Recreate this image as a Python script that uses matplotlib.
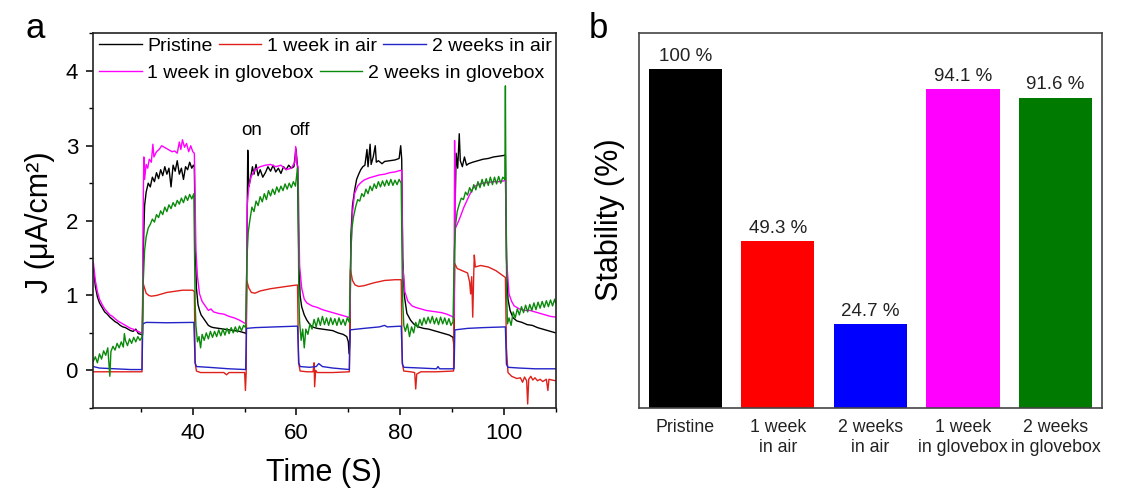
import matplotlib
matplotlib.use("Agg")
import matplotlib.pyplot as plt
from matplotlib.ticker import MultipleLocator

plt.rcParams['font.family'] = ['Liberation Sans', 'DejaVu Sans']

# ---------------- Panel a data ----------------
t_black = [20.8, 21.2, 21.6, 22.0, 22.5, 23.0, 23.5, 24.0, 24.5, 25.0, 25.5, 26.0, 26.5, 27.0, 27.5, 28.0, 28.5, 29.0, 29.5, 30.0, 30.3,
           30.45, 30.7, 31.0, 31.4, 31.8, 32.2, 32.6, 33.0, 33.4, 33.8, 34.2, 34.6, 35.0, 35.4, 35.8, 36.2, 36.6, 37.0, 37.4, 37.8, 38.2, 38.6, 39.0, 39.4, 39.8, 40.1, 40.3,
           40.5, 40.7, 41.0, 41.3, 41.6, 42.0, 42.5, 43.0, 43.5, 44.0, 45.0, 46.0, 47.0, 48.0, 49.0, 50.0, 50.3,
           50.45, 50.6, 50.8, 51.1, 51.5, 51.8, 52.2, 52.6, 53.0, 53.5, 54.0, 54.5, 55.0, 55.5, 56.0, 56.5, 57.0, 57.5, 58.0, 58.5, 59.0, 59.5, 59.9, 60.2,
           60.45, 60.7, 61.0, 61.5, 62.0, 62.5, 63.0, 64.0, 65.0, 66.0, 67.0, 68.0, 69.0, 69.7, 70.0, 70.15, 70.3,
           70.5, 70.8, 71.2, 71.6, 72.0, 72.4, 72.8, 73.2, 73.6, 73.8, 74.2, 74.4, 74.8, 75.2, 75.4, 75.8, 76.5, 77.0, 78.0, 79.0, 79.8, 80.1, 80.3,
           80.5, 80.8, 81.3, 82.0, 82.6, 83.5, 84.5, 85.5, 86.5, 87.5, 88.5, 89.5, 90.2, 90.4,
           90.55, 90.8, 91.1, 91.4, 91.6, 92.0, 92.4, 92.8, 93.2, 94.0, 95.0, 96.0, 97.0, 98.0, 99.0, 100.0, 100.3,
           100.5, 100.8, 101.2, 101.8, 102.5, 103.5, 104.5, 105.5, 106.5, 107.5, 108.5, 109.5, 110.0]
j_black = [1.38, 1.12, 0.98, 0.90, 0.84, 0.78, 0.75, 0.71, 0.68, 0.65, 0.63, 0.60, 0.58, 0.57, 0.55, 0.53, 0.52, 0.55, 0.49, 0.48, 0.47,
           1.60, 2.20, 2.38, 2.50, 2.45, 2.58, 2.52, 2.64, 2.56, 2.68, 2.60, 2.72, 2.62, 2.70, 2.45, 2.74, 2.66, 2.80, 2.62, 2.70, 2.55, 2.72, 2.68, 2.78, 2.70, 2.74, 2.72,
           1.60, 1.10, 0.88, 0.80, 0.74, 0.70, 0.65, 0.60, 0.58, 0.57, 0.56, 0.55, 0.54, 0.53, 0.52, 0.50, 0.49,
           1.80, 2.94, 2.45, 2.55, 2.72, 2.62, 2.75, 2.60, 2.68, 2.58, 2.64, 2.72, 2.66, 2.74, 2.65, 2.70, 2.63, 2.72, 2.68, 2.74, 2.70, 2.72, 2.96, 2.72,
           1.50, 1.00, 0.85, 0.74, 0.67, 0.62, 0.58, 0.56, 0.55, 0.54, 0.53, 0.50, 0.48, 0.45, 0.38, 0.22, 0.40,
           1.80, 2.20, 2.40, 2.55, 2.62, 2.68, 2.72, 2.74, 2.95, 2.72, 3.02, 2.75, 2.85, 3.00, 2.78, 2.80, 2.76, 2.79, 2.80, 2.81, 2.83, 3.00, 2.82,
           1.50, 1.00, 0.76, 0.67, 0.62, 0.58, 0.56, 0.55, 0.53, 0.51, 0.49, 0.47, 0.44, 0.30,
           2.00, 2.90, 2.70, 3.16, 2.80, 2.72, 2.85, 2.74, 2.76, 2.78, 2.80, 2.82, 2.83, 2.85, 2.86, 2.87, 2.88,
           1.50, 0.95, 0.80, 0.70, 0.66, 0.64, 0.61, 0.60, 0.57, 0.55, 0.53, 0.51, 0.50]

t_red = [20.8, 25.0, 30.2, 30.35, 30.6, 31.0, 31.5, 32.0, 33.0, 34.0, 35.0, 36.0, 37.0, 38.0, 39.0, 40.0, 40.3,
         40.45, 40.7, 41.5, 43.0, 46.0, 46.5, 47.0, 50.0, 50.15, 50.3,
         50.4, 50.8, 51.3, 52.0, 53.0, 55.0, 57.0, 59.0, 60.2,
         60.4, 60.7, 62.0, 63.2, 63.4, 63.5, 63.7, 64.0, 67.0, 70.2,
         70.4, 70.8, 71.3, 72.0, 73.0, 75.0, 77.0, 79.0, 80.2,
         80.4, 80.7, 82.0, 82.8, 83.0, 83.2, 84.0, 87.0, 90.3,
         90.5, 91.0, 92.0, 93.0, 93.4, 93.6, 93.8, 94.0, 94.2, 94.3, 94.5, 95.5, 97.0, 98.5, 99.5, 100.3,
         100.5, 100.8, 101.5, 102.5, 103.2, 103.6, 104.0, 104.4, 104.6, 104.8, 105.2, 105.6, 106.0, 106.5, 107.0, 107.5, 108.2, 108.5, 108.7, 109.3, 110.0]
j_red = [-0.02, -0.02, -0.02, 1.18, 1.12, 1.03, 1.00, 0.99, 1.00, 1.02, 1.04, 1.05, 1.06, 1.07, 1.07, 1.07, 1.05,
         0.10, -0.01, -0.03, -0.03, -0.03, -0.06, -0.03, -0.03, -0.27, -0.03,
         1.20, 1.10, 1.04, 1.03, 1.06, 1.09, 1.11, 1.13, 1.14,
         0.10, -0.01, -0.02, -0.02, 0.10, -0.22, 0.00, -0.03, -0.03, -0.02,
         1.35, 1.20, 1.14, 1.12, 1.13, 1.17, 1.20, 1.21, 1.21,
         0.10, -0.01, -0.02, -0.03, -0.25, -0.05, -0.02, -0.02, -0.01,
         1.43, 1.36, 1.33, 1.30, 1.18, 1.02, 1.25, 0.71, 1.30, 1.54, 1.38, 1.40, 1.38, 1.33, 1.28, 1.24,
         0.30, -0.03, -0.08, -0.11, -0.10, -0.16, -0.09, -0.14, -0.45, -0.12, -0.08, -0.13, -0.10, -0.14, -0.12, -0.15, -0.12, -0.27, -0.12, -0.13, -0.14]

t_blue = [20.8, 22.0, 25.0, 28.0, 30.2, 30.35, 31.0, 35.0, 40.2,
          40.45, 40.7, 43.0, 47.0, 50.2, 50.35, 52.0, 56.0, 60.2,
          60.45, 60.7, 62.5, 63.8, 64.3, 65.0, 67.0, 70.2, 70.35, 73.0, 76.0, 77.0, 77.5, 80.2,
          80.45, 80.7, 84.0, 87.0, 87.3, 87.6, 90.4, 90.55, 93.0, 96.0, 100.3,
          100.5, 100.8, 103.0, 106.0, 110.0]
j_blue = [0.05, 0.03, 0.02, 0.01, 0.01, 0.62, 0.64, 0.635, 0.64,
          0.10, 0.05, 0.04, 0.02, 0.01, 0.56, 0.57, 0.58, 0.59,
          0.10, 0.05, 0.04, 0.05, 0.09, 0.05, 0.03, 0.01, 0.54, 0.56, 0.58, 0.60, 0.58, 0.59,
          0.08, 0.04, 0.03, 0.02, 0.05, 0.02, 0.02, 0.54, 0.56, 0.57, 0.58,
          0.08, 0.04, 0.03, 0.02, 0.02]

t_mag = [20.8, 21.2, 21.6, 22.0, 22.5, 23.0, 23.5, 24.0, 24.5, 25.0, 25.5, 26.0, 26.5, 27.0, 27.5, 28.0, 28.5, 29.0, 29.5, 30.0, 30.3,
         30.4, 30.55, 30.7, 31.0, 31.3, 31.6, 32.0, 32.3, 32.5, 33.0, 33.5, 34.0, 34.5, 35.0, 35.5, 36.0, 36.5, 37.0, 37.4, 37.7, 38.0, 38.4, 38.8, 39.2, 39.6, 40.0, 40.3,
         40.6, 40.9, 41.3, 41.8, 42.5, 43.0, 43.5, 44.0, 45.0, 46.0, 47.0, 48.0, 49.0, 50.0, 50.3,
         50.5, 50.8, 51.2, 51.6, 52.0, 53.0, 54.0, 55.0, 56.0, 57.0, 58.0, 59.0, 59.7, 59.85, 60.1, 60.3,
         60.6, 61.0, 61.5, 62.0, 63.0, 64.0, 65.0, 66.0, 67.0, 68.0, 69.0, 70.0, 70.3,
         70.5, 70.8, 71.2, 71.8, 72.3, 73.0, 74.0, 75.0, 76.0, 77.0, 78.0, 79.0, 80.0, 80.3,
         80.5, 80.9, 81.5, 82.3, 83.0, 84.0, 85.0, 86.0, 87.0, 88.0, 89.0, 90.0, 90.4,
         90.5, 90.65, 91.0, 91.6, 92.3, 92.9, 93.5, 94.2, 95.0, 96.0, 97.0, 98.0, 99.0, 100.0, 100.3,
         100.6, 101.0, 101.5, 102.0, 103.0, 104.0, 105.0, 106.0, 107.0, 108.0, 109.0, 110.0]
j_mag = [1.45, 1.20, 1.05, 0.95, 0.88, 0.82, 0.78, 0.74, 0.72, 0.69, 0.66, 0.64, 0.62, 0.60, 0.58, 0.56, 0.55, 0.53, 0.52, 0.50, 0.50,
         2.00, 2.85, 2.55, 2.75, 2.70, 2.82, 2.78, 3.02, 2.85, 2.92, 2.95, 3.00, 2.98, 2.96, 2.94, 2.92, 2.93, 2.90, 3.05, 2.95, 3.08, 2.98, 3.03, 2.92, 3.00, 2.92, 2.90,
         1.60, 1.25, 1.02, 0.92, 0.85, 0.80, 0.82, 0.78, 0.76, 0.75, 0.72, 0.70, 0.67, 0.63, 0.62,
         2.20, 2.45, 2.58, 2.63, 2.68, 2.72, 2.74, 2.75, 2.72, 2.74, 2.68, 2.70, 2.78, 2.99, 2.75, 2.72,
         1.40, 1.10, 0.95, 0.90, 0.86, 0.84, 0.81, 0.79, 0.77, 0.75, 0.73, 0.71, 0.70,
         1.60, 2.10, 2.36, 2.46, 2.50, 2.54, 2.57, 2.59, 2.61, 2.62, 2.64, 2.65, 2.67, 2.67,
         1.40, 1.05, 0.92, 0.86, 0.84, 0.82, 0.80, 0.79, 0.78, 0.77, 0.75, 0.72, 0.70,
         3.07, 1.90, 1.95, 2.05, 2.18, 2.27, 2.36, 2.45, 2.48, 2.50, 2.51, 2.52, 2.52, 2.53, 2.55,
         1.40, 1.02, 0.92, 0.86, 0.82, 0.80, 0.80, 0.78, 0.76, 0.74, 0.72, 0.71]

t_green = [20.8, 21.2, 21.6, 22.0, 22.4, 22.8, 23.2, 23.6, 24.0, 24.2, 24.6, 25.0, 25.4, 25.8, 26.2, 26.6, 26.8, 27.0, 27.4, 27.8, 28.2, 28.6, 29.0, 29.4, 29.8, 30.2,
           30.45, 30.7, 31.0, 31.4, 31.8, 32.2, 32.6, 33.0, 33.4, 33.8, 34.2, 34.6, 35.0, 35.4, 35.8, 36.2, 36.6, 37.0, 37.4, 37.8, 38.2, 38.6, 39.0, 39.4, 39.8, 40.2,
           40.45, 40.6, 40.9, 41.2, 41.5, 41.8, 42.2, 42.6, 43.0, 43.4, 43.8, 44.2, 44.6, 45.0, 45.4, 45.8, 46.2, 46.6, 47.0, 47.4, 47.8, 48.2, 48.6, 49.0, 49.4, 49.8, 50.2,
           50.45, 50.7, 51.0, 51.4, 51.8, 52.2, 52.6, 53.0, 53.4, 53.8, 54.2, 54.6, 55.0, 55.4, 55.8, 56.2, 56.6, 57.0, 57.4, 57.8, 58.2, 58.6, 59.0, 59.4, 59.8, 60.2, 60.3,
           60.45, 60.6, 60.9, 61.2, 61.5, 61.8, 62.2, 62.6, 63.0, 63.4, 63.8, 64.2, 64.6, 65.0, 65.4, 65.8, 66.2, 66.6, 67.0, 67.4, 67.8, 68.2, 68.6, 69.0, 69.4, 69.8, 70.2,
           70.45, 70.7, 71.0, 71.4, 71.8, 72.2, 72.6, 73.0, 73.4, 73.8, 74.2, 74.6, 75.0, 75.4, 75.8, 76.2, 76.6, 77.0, 77.4, 77.8, 78.2, 78.6, 79.0, 79.4, 79.8, 80.2,
           80.45, 80.7, 81.0, 81.4, 81.8, 82.2, 82.6, 83.0, 83.4, 83.8, 84.2, 84.6, 85.0, 85.4, 85.8, 86.2, 86.6, 87.0, 87.4, 87.8, 88.2, 88.6, 89.0, 89.4, 89.8, 90.2,
           90.45, 90.7, 91.0, 91.4, 91.8, 92.2, 92.6, 93.0, 93.4, 93.8, 94.2, 94.6, 95.0, 95.4, 95.8, 96.2, 96.6, 97.0, 97.4, 97.8, 98.2, 98.6, 99.0, 99.4, 99.8, 100.2, 100.3, 100.4,
           100.55, 100.7, 101.0, 101.4, 101.8, 102.2, 102.6, 103.0, 103.4, 103.8, 104.2, 104.6, 105.0, 105.4, 105.8, 106.2, 106.6, 107.0, 107.4, 107.8, 108.2, 108.6, 109.0, 109.4, 109.8, 110.0]
j_green = [0.12, 0.18, 0.10, 0.22, 0.15, 0.26, 0.20, 0.30, -0.08, 0.25, 0.32, 0.27, 0.36, 0.30, 0.38, 0.31, 0.49, 0.40, 0.33, 0.42, 0.36, 0.44, 0.38, 0.45, 0.40, 0.44,
           1.20, 1.60, 1.78, 1.90, 1.95, 2.02, 1.98, 2.08, 2.04, 2.13, 2.08, 2.18, 2.12, 2.21, 2.16, 2.24, 2.19, 2.27, 2.22, 2.30, 2.24, 2.33, 2.27, 2.35, 2.29, 2.36,
           0.90, 0.60, 0.38, 0.45, 0.30, 0.48, 0.40, 0.50, 0.42, 0.52, 0.44, 0.52, 0.45, 0.54, 0.46, 0.55, 0.47, 0.56, 0.49, 0.57, 0.50, 0.58, 0.51, 0.59, 0.53, 0.60, 0.57,
           1.50, 1.85, 2.00, 2.18, 2.12, 2.26, 2.20, 2.32, 2.25, 2.36, 2.28, 2.40, 2.33, 2.42, 2.35, 2.45, 2.38, 2.46, 2.40, 2.49, 2.42, 2.50, 2.44, 2.52, 2.46, 2.70, 2.50,
           1.00, 0.65, 0.40, 0.55, 0.30, 0.55, 0.48, 0.62, 0.55, 0.68, 0.58, 0.70, 0.60, 0.72, 0.61, 0.70, 0.60, 0.70, 0.61, 0.69, 0.60, 0.70, 0.61, 0.68, 0.60, 0.70, 0.64,
           1.50, 1.90, 2.05, 2.18, 2.28, 2.26, 2.36, 2.32, 2.42, 2.36, 2.46, 2.40, 2.49, 2.43, 2.52, 2.45, 2.53, 2.46, 2.54, 2.47, 2.55, 2.47, 2.54, 2.48, 2.55, 2.50,
           1.00, 0.60, 0.52, 0.62, 0.45, 0.58, 0.50, 0.64, 0.57, 0.68, 0.60, 0.70, 0.62, 0.71, 0.63, 0.72, 0.62, 0.70, 0.61, 0.71, 0.62, 0.70, 0.61, 0.69, 0.60, 0.65,
           1.60, 1.95, 2.12, 2.22, 2.30, 2.28, 2.38, 2.34, 2.44, 2.38, 2.48, 2.41, 2.52, 2.44, 2.55, 2.46, 2.56, 2.47, 2.58, 2.48, 2.58, 2.49, 2.59, 2.50, 2.58, 2.55, 3.80, 2.40,
           1.00, 0.62, 0.70, 0.60, 0.78, 0.70, 0.82, 0.74, 0.85, 0.77, 0.87, 0.78, 0.88, 0.80, 0.90, 0.81, 0.91, 0.83, 0.92, 0.84, 0.93, 0.85, 0.94, 0.86, 0.95, 0.90]

series_labels = ["Pristine", "1 week in air", "2 weeks in air", "1 week in glovebox", "2 weeks in glovebox"]
line_colors = ["black", "#e0201b", "#2323c8", "#ff00ff", "#0a8a0a"]

# ---------------- Panel b data ----------------
categories = ["Pristine", "1 week\nin air", "2 weeks\nin air", "1 week\nin glovebox", "2 weeks\nin glovebox"]
stability = [100, 49.3, 24.7, 94.1, 91.6]
bar_labels = ["100 %", "49.3 %", "24.7 %", "94.1 %", "91.6 %"]
bar_colors = ["#000000", "#ff0000", "#0000ff", "#ff00ff", "#007a00"]

fig = plt.figure(figsize=(11.21, 4.92), dpi=100)
ax1 = fig.add_axes([0.0832, 0.1713, 0.4125, 0.7607])
ax2 = fig.add_axes([0.570, 0.1707, 0.413, 0.762])

# ---- Panel a ----
xs = [t_black, t_red, t_blue, t_mag, t_green]
ys = [j_black, j_red, j_blue, j_mag, j_green]
handles = []
for t, j, c, lab in zip(xs, ys, line_colors, series_labels):
    h, = ax1.plot(t, j, color=c, lw=1.0, label=lab)
    handles.append(h)

ax1.set_xlim(20.8, 110)
ax1.set_ylim(-0.5, 4.5)
ax1.set_xticks([40, 60, 80, 100])
ax1.xaxis.set_minor_locator(MultipleLocator(10))
ax1.set_yticks([0, 1, 2, 3, 4])
ax1.yaxis.set_minor_locator(MultipleLocator(0.5))
ax1.tick_params(axis='both', which='major', direction='out', length=5, width=1.1,
                labelsize=16, pad=6, top=False, right=False)
ax1.tick_params(axis='both', which='minor', direction='out', length=3, width=1.0,
                top=False, right=False)
for s in ax1.spines.values():
    s.set_linewidth(1.2)
    s.set_color('#222222')

leg1 = ax1.legend(handles=handles[:3], ncol=3, loc='upper left', bbox_to_anchor=(0.012, 0.99),
                  frameon=False, fontsize=14, handlelength=2.2, handletextpad=0.3,
                  columnspacing=0.3, borderpad=0, borderaxespad=0)
ax1.add_artist(leg1)
ax1.legend(handles=handles[3:], ncol=2, loc='upper left', bbox_to_anchor=(0.012, 0.918),
           frameon=False, fontsize=14, handlelength=2.2, handletextpad=0.3,
           columnspacing=0.3, borderpad=0, borderaxespad=0)

ax1.text(51.4, 3.2, "on", fontsize=13.5, ha='center', va='center')
ax1.text(60.6, 3.2, "off", fontsize=13.5, ha='center', va='center')

# ---- Panel b ----
xpos = list(range(len(categories)))
ax2.bar(xpos, stability, width=0.79, color=bar_colors)
for x, v, lab in zip(xpos, stability, bar_labels):
    ax2.annotate(lab, (x, v), xytext=(0, 3), textcoords='offset points',
                 ha='center', va='bottom', fontsize=13.5, color='#222222')
ax2.set_xlim(-0.5, 4.5)
ax2.set_ylim(0, 110.6)
ax2.set_yticks([])
ax2.set_xticks(xpos)
ax2.set_xticklabels(categories, fontsize=12.8, linespacing=1.25, color='#222222')
ax2.tick_params(axis='x', length=0, pad=8)
for s in ax2.spines.values():
    s.set_linewidth(1.2)
    s.set_color('#444444')

# ---- Labels ----
fig.text(324 / 1121, 1 - 473 / 492, "Time (S)", fontsize=22, ha='center', va='center')
fig.text(40 / 1121, 1 - 222 / 492, "J (μA/cm²)", fontsize=22, rotation=90, ha='center', va='center')
fig.text(610 / 1121, 1 - 220 / 492, "Stability (%)", fontsize=22, rotation=90, ha='center', va='center')
fig.text(35 / 1121, 1 - 28 / 492, "a", fontsize=25, ha='center', va='center')
fig.text(598 / 1121, 1 - 28 / 492, "b", fontsize=25, ha='center', va='center')

fig.savefig("out.png", dpi=100)
